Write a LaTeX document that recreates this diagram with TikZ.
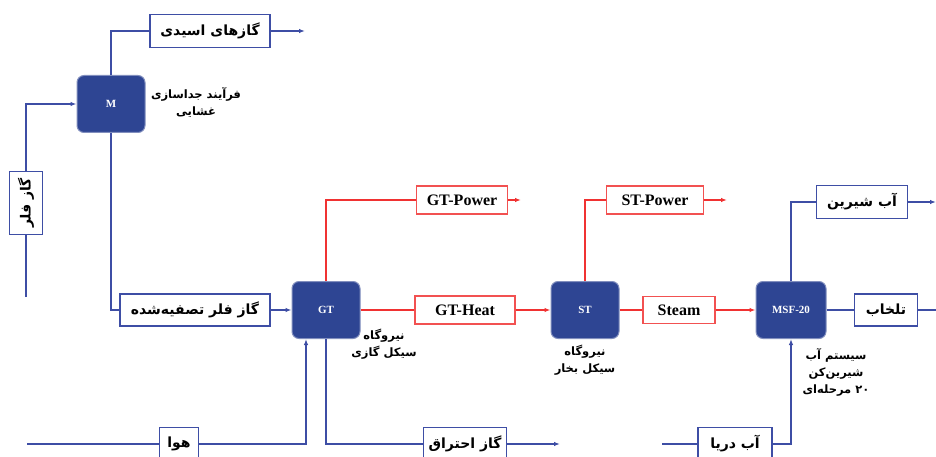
\documentclass[tikz,border=0pt]{standalone}
\usepackage{fontspec}
\setmainfont{Liberation Serif}
\newfontfamily\fa[Script=Arabic]{DejaVu Sans}
\TeXXeTstate=1
\usepackage{tikz}
\usetikzlibrary{
	arrows.meta
}
\definecolor{unitblue}{RGB}{46,69,147}
\definecolor{flowblue}{RGB}{62,78,165}
\definecolor{flowred}{RGB}{240,50,50}

\tikzset{
	unit/.style={draw=unitblue!60!white, fill=unitblue, line width=1pt,
		rounded corners=7pt, minimum width=68pt, minimum height=57pt,
		inner sep=0pt, text=white, font=\bfseries\fontsize{11}{12}\selectfont},
	tag/.style={draw=flowblue, fill=white, line width=1.2pt, inner sep=0pt,
		font=\fa\bfseries\fontsize{14}{16}\selectfont},
	hottag/.style={tag, draw=flowred!85!white, font=\bfseries\fontsize{16}{18}\selectfont},
	note/.style={align=center, inner sep=0pt,
		font=\fa\bfseries\fontsize{11.5}{17}\selectfont},
	flow/.style={draw=flowblue, line width=1.3pt, -{Latex[length=6pt,width=4.5pt]}},
	hot/.style={flow, draw=flowred}
}

\begin{document}
\begin{tikzpicture}[x=1pt,y=-1pt]
	\useasboundingbox (0,0) rectangle (936,457);
	\clip (0,0) rectangle (936,457);

	% units
	\node [unit] (M)   at (111,104) {M};
	\node [unit] (GT)  at (326,310) {GT};
	\node [unit] (ST)  at (585,310) {ST};
	\node [unit, minimum width=70pt] (MSF) at (791,310) {MSF-20};

	% streams
	\node [tag, minimum width=120pt, minimum height=33pt] (acid)  at (210,31)  {\beginR گازهای اسیدی\endR};
	\node [tag, minimum width=63pt, minimum height=33pt, rotate=90] (flare) at (26,203) {\beginR گاز فلر\endR};
	\node [tag, minimum width=150pt, minimum height=32pt] (clean) at (195,310) {\beginR گاز فلر تصفیه‌شده\endR};
	\node [tag, minimum width=39pt, minimum height=33pt]  (air)   at (179,444) {\beginR هوا\endR};
	\node [tag, minimum width=83pt, minimum height=33pt]  (flue)  at (465,444) {\beginR گاز احتراق\endR};
	\node [tag, minimum width=74pt, minimum height=33pt]  (sea)   at (735,444) {\beginR آب دریا\endR};
	\node [tag, minimum width=91pt, minimum height=33pt]  (fresh) at (862,202) {\beginR آب شیرین\endR};
	\node [tag, minimum width=63pt, minimum height=32pt]  (brine) at (886,310) {\beginR تلخاب\endR};

	\node [hottag, minimum width=91pt, minimum height=28pt]  (gtp)   at (462,200) {GT-Power};
	\node [hottag, minimum width=100pt, minimum height=28pt] (gth)   at (465,310) {GT-Heat};
	\node [hottag, minimum width=97pt, minimum height=28pt]  (stp)   at (655,200) {ST-Power};
	\node [hottag, minimum width=72pt, minimum height=27pt]  (steam) at (679,310) {Steam};

	% notes
	\node [note] (Mnote)   at (196,102) {\beginR فرآیند جداسازی\endR\\\beginR غشایی\endR};
	\node [note] (GTnote)  at (384,344) {\beginR نیروگاه\endR\\\beginR سیکل گازی\endR};
	\node [note] (STnote)  at (585,360) {\beginR نیروگاه\endR\\\beginR سیکل بخار\endR};
	\node [note] (MSFnote) at (836,372) {\beginR سیستم آب\endR\\\beginR شیرین‌کن\endR\\\beginR ۲۰ مرحله‌ای\endR};

	% free ends
	\coordinate (acidout)  at (305,31);
	\coordinate (flarein)  at (26,297);
	\coordinate (airin)    at (27,444);
	\coordinate (flueout)  at (560,444);
	\coordinate (gtpout)   at (521,200);
	\coordinate (stpout)   at (727,200);
	\coordinate (freshout) at (936,202);
	\coordinate (brineout) at (936,310);
	\coordinate (seain)    at (662,444);

	% blue flows
	\draw [flow, -] (M.north) |- (acid.west);
	\draw [flow] (acid.east) -- (acidout);
	\draw [flow, -] (flarein) -- (flare.west);
	\draw [flow] (flare.east) |- (M.west);
	\draw [flow, -] (M.south) |- (clean.west);
	\draw [flow] (clean.east) -- (GT.west);
	\draw [flow, -] (airin) -- (air.west);
	\draw [flow] (air.east) -| ([xshift=-20pt]GT.south);
	\draw [flow, -] (GT.south) |- (flue.west);
	\draw [flow] (flue.east) -- (flueout);
	\draw [flow, -] (MSF.north) |- (fresh.west);
	\draw [flow] (fresh.east) -- (freshout);
	\draw [flow, -] (MSF.east) -- (brine.west);
	\draw [flow, -] (brine.east) -- (brineout);
	\draw [flow, -] (seain) -- (sea.west);
	\draw [flow] (sea.east) -| (MSF.south);

	% red flows
	\draw [hot, -] (GT.north) |- (gtp.west);
	\draw [hot] (gtp.east) -- (gtpout);
	\draw [hot, -] (GT.east) -- (gth.west);
	\draw [hot] (gth.east) -- (ST.west);
	\draw [hot, -] (ST.north) |- (stp.west);
	\draw [hot] (stp.east) -- (stpout);
	\draw [hot, -] (ST.east) -- (steam.west);
	\draw [hot] (steam.east) -- (MSF.west);
\end{tikzpicture}
\end{document}
